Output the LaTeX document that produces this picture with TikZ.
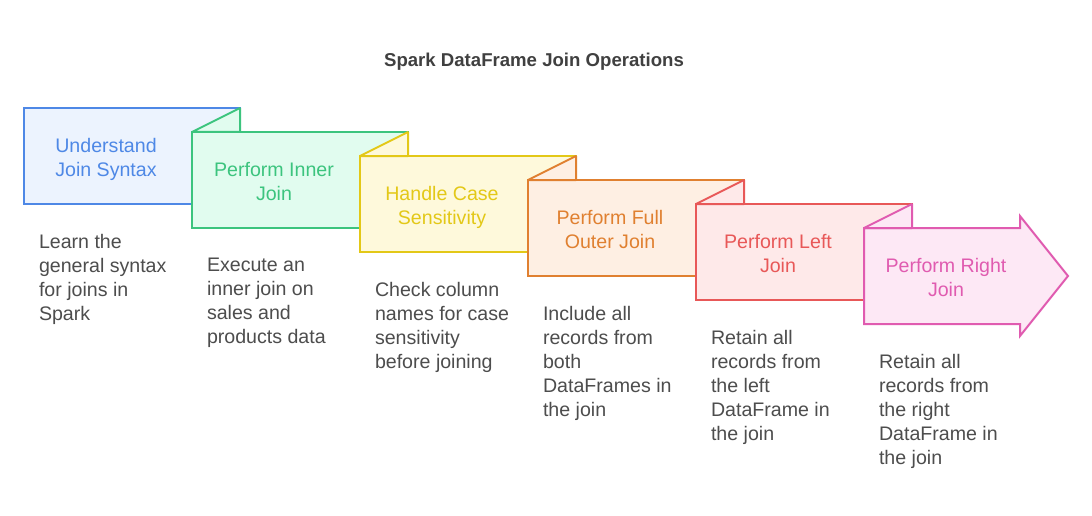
\documentclass[tikz,border=0pt]{standalone}
\usepackage{fontspec}
\setmainfont{Liberation Sans}
\begin{document}
\begin{tikzpicture}[x=1pt,y=-1pt,line width=2pt,line join=miter,
  flap/.style={line join=bevel},
  lbl/.style={anchor=north,align=center,inner sep=0pt,font=\fontsize{19.6}{24}\selectfont},
  desc/.style={anchor=north west,align=left,inner sep=0pt,text=descgray,font=\fontsize{19.6}{24}\selectfont},
  ttl/.style={anchor=base,inner sep=0pt,text=titlegray,font=\fontsize{18.6}{22}\selectfont\bfseries}]
\definecolor{descgray}{HTML}{4D4D4D}
\definecolor{titlegray}{HTML}{404040}
\definecolor{bS}{HTML}{4E88E6}\definecolor{bF}{HTML}{ECF3FE}
\definecolor{gS}{HTML}{3CC47E}\definecolor{gF}{HTML}{E1FCEF}
\definecolor{yS}{HTML}{E3C817}\definecolor{yF}{HTML}{FEF9DB}
\definecolor{oS}{HTML}{E08030}\definecolor{oF}{HTML}{FEEFE3}
\definecolor{rS}{HTML}{E85858}\definecolor{rF}{HTML}{FEE9E9}
\definecolor{pS}{HTML}{E05BB0}\definecolor{pF}{HTML}{FDE8F5}
\fill[white] (0,0) rectangle (1092,516);
\useasboundingbox (0,0) rectangle (1092,516);

\node[ttl] (title) at (534,66.5) {Spark DataFrame Join Operations};

\draw[bS,fill=bF] (24,108) rectangle (240,204);
\draw[gS,fill=gF] (192,132) rectangle (408,228);
\draw[gS,fill=gF,flap] (192,132)--(240,108)--(240,132)--cycle;
\draw[yS,fill=yF] (360,156) rectangle (576,252);
\draw[yS,fill=yF,flap] (360,156)--(408,132)--(408,156)--cycle;
\draw[oS,fill=oF] (528,180) rectangle (744,276);
\draw[oS,fill=oF,flap] (528,180)--(576,156)--(576,180)--cycle;
\draw[rS,fill=rF] (696,204) rectangle (912,300);
\draw[rS,fill=rF,flap] (696,204)--(744,180)--(744,204)--cycle;
\draw[pS,fill=pF] (864,324)--(864,228)--(1020,228)--(1020,216)--(1068,276)--(1020,336)--(1020,324)--cycle;
\draw[pS,fill=pF,flap] (864,228)--(912,204)--(912,228)--cycle;

\node[lbl,text=bS] (l1) at (106,137) {Understand\\Join Syntax};
\node[lbl,text=gS] (l2) at (274,161) {Perform Inner\\Join};
\node[lbl,text=yS] (l3) at (442,185) {Handle Case\\Sensitivity};
\node[lbl,text=oS] (l4) at (610,209) {Perform Full\\Outer Join};
\node[lbl,text=rS] (l5) at (778,233) {Perform Left\\Join};
\node[lbl,text=pS] (l6) at (946,257) {Perform Right\\Join};

\node[desc] (d1) at (38,233) {Learn the\\general syntax\\for joins in\\Spark};
\node[desc] (d2) at (206,257) {Execute an\\inner join on\\sales and\\products data};
\node[desc] (d3) at (374,281) {Check column\\names for case\\sensitivity\\before joining};
\node[desc] (d4) at (542,305) {Include all\\records from\\both\\DataFrames in\\the join};
\node[desc] (d5) at (710,329) {Retain all\\records from\\the left\\DataFrame in\\the join};
\node[desc] (d6) at (878,353) {Retain all\\records from\\the right\\DataFrame in\\the join};
\end{tikzpicture}
\end{document}
